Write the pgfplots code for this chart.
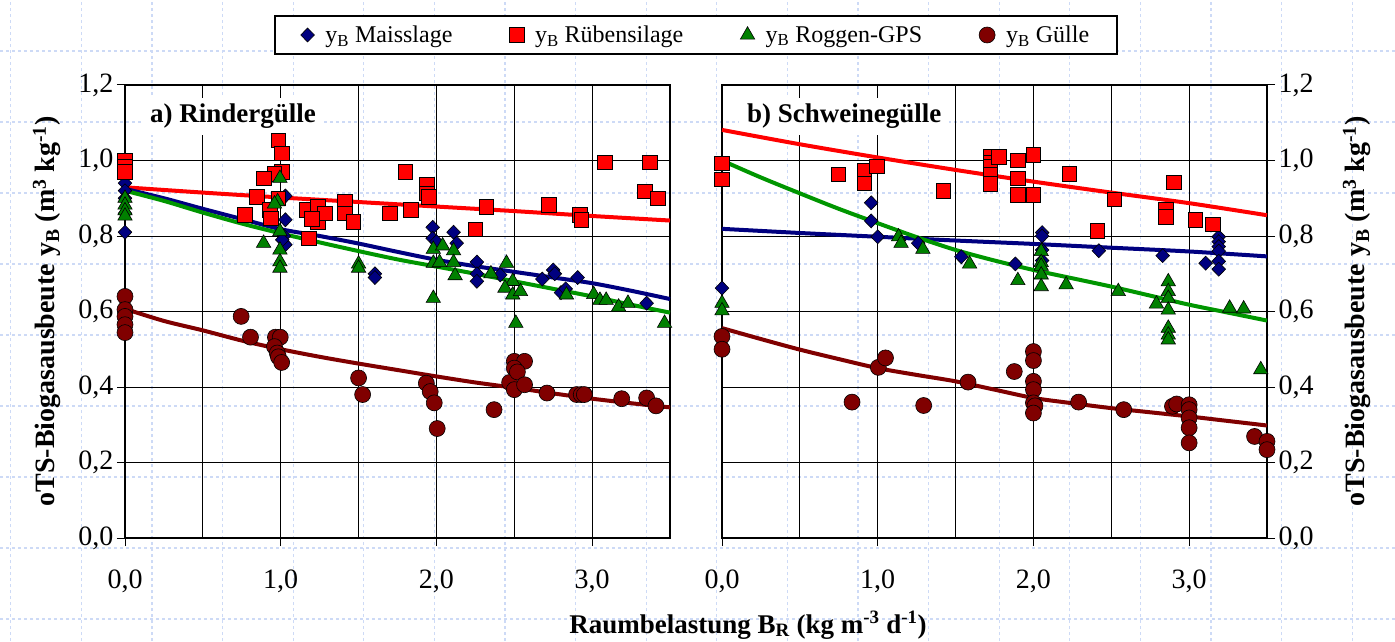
\documentclass[border=0pt]{standalone}
\usepackage{fontspec}
\setmainfont{Liberation Serif}
\usepackage{pgfplots}
\pgfplotsset{compat=1.18}
\definecolor{mnavy}{RGB}{0,0,128}
\definecolor{mred}{RGB}{255,0,0}
\definecolor{mgreen}{RGB}{0,128,0}
\definecolor{lgreen}{RGB}{0,150,0}
\definecolor{mdred}{RGB}{128,0,0}
\definecolor{bgline}{RGB}{205,218,246}
\tikzset{ptitle/.style={anchor=base west, fill=white, inner xsep=8pt, inner ysep=6pt, font=\bfseries\fontsize{27}{30}\selectfont}}
\pgfplotsset{
  panel/.style={
    scale only axis, width=545pt, height=453pt,
    xmin=0, xmax=3.5, ymin=0, ymax=1.2,
    clip=false,
    xtick={0,1,2,3}, xticklabels={{0,0},{1,0},{2,0},{3,0}},
    minor xtick={0.5,1.5},
    extra x ticks={2.5}, extra x tick labels={},
    extra x tick style={grid style={black!75, line width=2pt}, major tick length=0pt},
    ytick={0,0.2,0.4,0.6,0.8,1.0,1.2},
    yticklabels={{0,0},{0,2},{0,4},{0,6},{0,8},{1,0},{1,2}},
    grid=both,
    major grid style={black, line width=0.9pt},
    minor grid style={black, line width=0.9pt},
    axis line style={black, line width=1.3pt},
    tick style={black, line width=1pt},
    major tick length=8pt, minor tick length=0pt,
    tick align=outside,
    tick label style={font=\fontsize{28}{30}\selectfont},
    xticklabel style={yshift=-20pt},
    label style={font=\bfseries\fontsize{28}{30}\selectfont},
  },
  mai/.style={only marks, mark=diamond*, mark size=7pt, mark options={fill=mnavy, draw=black, line width=0.6pt, xscale=1.3}},
  rue/.style={only marks, mark=square*, mark size=7.3pt, mark options={fill=mred, draw=black, line width=0.6pt}},
  rog/.style={only marks, mark=triangle*, mark size=8.3pt, mark options={fill=mgreen, draw=black, line width=0.6pt}},
  gue/.style={only marks, mark=*, mark size=8pt, mark options={fill=mdred, draw=black, line width=0.6pt}},
  fit/.style={forget plot, no marks, smooth, line width=4pt, #1},
}
\begin{document}
\begin{tikzpicture}
\useasboundingbox (0,0) rectangle (1395pt,641pt);
\begin{scope}[line width=1.2pt]
\foreach \i in {0,...,19} { \draw[bgline, dash pattern=on 3pt off 3pt] ({10.8pt+\i*70.6pt},0pt) -- ({10.8pt+\i*70.6pt},641pt); }
\foreach \j in {0,...,8} { \draw[bgline, dash pattern=on 3pt off 3pt] (0pt,{22pt+\j*71pt}) -- (1395pt,{22pt+\j*71pt}); }
\end{scope}

% ---------------- left panel ----------------
\begin{axis}[panel, at={(125pt,103pt)}, anchor=south west,
  tick pos=left,
  ylabel={oTS-Biogasausbeute y\textsubscript{B} (m\textsuperscript{3} kg\textsuperscript{-1})},
  ylabel style={at={(axis description cs:-0.143,0.5)}, anchor=center},
  legend columns=4, legend cell align=left,
  legend image code/.code={\draw[mark repeat=2,mark phase=2,#1] plot coordinates {(0pt,0pt) (8pt,0pt) (16pt,0pt)};},
  legend style={at={(axis description cs:0.2734,1.1104)}, anchor=west, draw=black, line width=1.5pt,
    inner xsep=26pt, inner ysep=8pt, font=\fontsize{24}{26}\selectfont,
    /tikz/every odd column/.append style={column sep=9pt},
    /tikz/every even column/.append style={column sep=55pt}},
]
\node[ptitle] at (axis cs:0.109,1.10) {a) Rindergülle};
\addplot[fit=mred] coordinates {(0,0.929) (0.5,0.915) (1,0.902) (1.5,0.89) (2,0.878) (2.5,0.866) (3,0.853) (3.5,0.841)};
\addplot[fit=mnavy] coordinates {(0,0.925) (0.25,0.90) (0.5,0.872) (0.75,0.845) (1,0.818) (1.25,0.80) (1.5,0.78) (1.75,0.758) (2,0.737) (2.25,0.72) (2.5,0.705) (2.75,0.69) (3,0.675) (3.25,0.655) (3.5,0.633)};
\addplot[fit=lgreen] coordinates {(0,0.92) (0.25,0.893) (0.5,0.862) (0.75,0.833) (1,0.807) (1.25,0.783) (1.5,0.76) (1.75,0.738) (2,0.719) (2.25,0.70) (2.5,0.68) (2.75,0.66) (3,0.64) (3.25,0.618) (3.5,0.597)};
\addplot[fit=mdred] coordinates {(0,0.607) (0.25,0.575) (0.5,0.55) (0.75,0.523) (1,0.50) (1.25,0.48) (1.5,0.462) (1.75,0.445) (2,0.428) (2.25,0.412) (2.5,0.398) (2.75,0.383) (3,0.369) (3.25,0.357) (3.5,0.346)};
\addplot[mai] coordinates {
(0,0.94) (0,0.92) (0,0.90) (0,0.86) (0,0.81)
(1.03,0.906) (1.03,0.843) (1.02,0.80) (1.03,0.777) (1.01,0.79)
(1.605,0.70) (1.605,0.69) (1.976,0.823) (1.976,0.794) (2.0,0.785)
(2.11,0.81) (2.13,0.781) (2.26,0.731) (2.26,0.70) (2.26,0.68)
(2.41,0.697) (2.68,0.686) (2.75,0.71) (2.76,0.70) (2.80,0.65)
(2.83,0.66) (2.907,0.69) (3.35,0.622)};
\addlegendentry{y\textsubscript{B} Maisslage}
\addplot[rue] coordinates {
(0,1.00) (0,0.985) (0,0.97) (0.985,1.054) (1.006,1.019) (1.006,0.970)
(0.96,0.965) (0.893,0.953) (0.845,0.904) (0.985,0.90) (0.77,0.856)
(0.93,0.869) (0.935,0.847) (1.166,0.869) (1.24,0.878) (1.24,0.838)
(1.285,0.86) (1.2,0.845) (1.413,0.891) (1.413,0.86) (1.466,0.837)
(1.18,0.794) (1.70,0.86) (1.80,0.970) (1.835,0.869) (1.94,0.935)
(1.94,0.913) (1.95,0.904) (2.25,0.818) (2.32,0.878) (2.72,0.882)
(2.92,0.856) (2.93,0.843) (3.08,0.995) (3.37,0.995) (3.34,0.918) (3.42,0.90)};
\addlegendentry{y\textsubscript{B} Rübensilage}
\addplot[rog] coordinates {
(0,0.90) (0,0.882) (0,0.867) (0,0.853) (0.995,0.953) (0.98,0.891)
(0.96,0.885) (0.89,0.781) (0.995,0.812) (0.995,0.763) (0.995,0.732)
(0.995,0.715) (1.50,0.726) (1.50,0.715) (1.98,0.765) (2.04,0.774)
(2.11,0.761) (1.98,0.728) (2.02,0.73) (2.11,0.73) (2.12,0.695)
(1.98,0.635) (2.35,0.70) (2.45,0.728) (2.49,0.68) (2.44,0.662)
(2.49,0.644) (2.54,0.653) (2.51,0.569) (2.835,0.644) (3.01,0.645)
(3.05,0.63) (3.09,0.63) (3.17,0.612) (3.23,0.622) (3.465,0.569)};
\addlegendentry{y\textsubscript{B} Roggen-GPS}
\addplot[gue] coordinates {
(0,0.64) (0,0.605) (0,0.587) (0,0.565) (0,0.544) (0.746,0.587)
(0.806,0.532) (0.966,0.532) (0.997,0.532) (0.96,0.507) (0.978,0.49)
(0.985,0.48) (1.006,0.465) (1.50,0.424) (1.526,0.38) (1.935,0.41)
(1.96,0.388) (1.986,0.358) (2.005,0.29) (2.37,0.34) (2.47,0.412)
(2.50,0.393) (2.50,0.468) (2.566,0.468) (2.50,0.45) (2.52,0.44)
(2.566,0.406) (2.71,0.384) (2.90,0.38) (2.93,0.38) (2.95,0.38)
(3.19,0.369) (3.35,0.371) (3.41,0.35)};
\addlegendentry{y\textsubscript{B} Gülle}
\end{axis}

% ---------------- right panel ----------------
\begin{axis}[panel, at={(722pt,103pt)}, anchor=south west,
  xtick pos=left, ytick pos=right, yticklabel pos=right,
  ylabel={oTS-Biogasausbeute y\textsubscript{B} (m\textsuperscript{3} kg\textsuperscript{-1})},
  ylabel style={at={(axis description cs:1.165,0.5)}, anchor=center},
]
\node[ptitle] at (axis cs:0.109,1.10) {b) Schweinegülle};
\addplot[fit=mred] coordinates {(0,1.081) (0.5,1.043) (1,1.008) (1.5,0.975) (2,0.944) (2.5,0.915) (3,0.887) (3.5,0.855)};
\addplot[fit=mnavy] coordinates {(0,0.819) (0.5,0.808) (1,0.798) (1.5,0.788) (2,0.779) (2.5,0.769) (3,0.759) (3.5,0.746)};
\addplot[fit=lgreen] coordinates {(0,1.0) (0.25,0.955) (0.5,0.913) (0.75,0.872) (1,0.834) (1.25,0.797) (1.5,0.763) (1.75,0.735) (2,0.71) (2.25,0.688) (2.5,0.666) (2.75,0.642) (3,0.618) (3.25,0.597) (3.5,0.576)};
\addplot[fit=mdred] coordinates {(0,0.556) (0.25,0.527) (0.5,0.499) (0.75,0.474) (1,0.45) (1.25,0.432) (1.5,0.415) (1.75,0.393) (2,0.371) (2.25,0.357) (2.5,0.344) (2.75,0.333) (3,0.322) (3.25,0.31) (3.5,0.298)};
\addplot[mai] coordinates {
(0,0.662) (0.958,0.888) (0.958,0.84) (1.0,0.798) (1.26,0.781)
(1.537,0.745) (1.884,0.726) (2.056,0.809) (2.056,0.80) (2.056,0.763)
(2.056,0.735) (2.42,0.761) (2.83,0.748) (3.106,0.728) (3.19,0.798)
(3.19,0.785) (3.19,0.772) (3.19,0.76) (3.19,0.733) (3.19,0.712)};
\addplot[rue] coordinates {
(0,0.993) (0,0.95) (0.748,0.963) (0.915,0.972) (0.915,0.94) (0.995,0.985)
(1.42,0.919) (1.724,1.01) (1.724,0.995) (1.724,0.985) (1.724,0.962)
(1.724,0.938) (1.777,1.01) (1.90,1.001) (1.90,0.953) (1.90,0.909)
(2.00,1.015) (2.00,0.909) (2.23,0.964) (2.52,0.897) (2.41,0.813)
(2.90,0.942) (2.85,0.871) (2.85,0.851) (3.04,0.843) (3.15,0.831)};
\addplot[rog] coordinates {
(0,0.622) (0,0.602) (1.134,0.798) (1.15,0.781) (1.29,0.765) (1.59,0.726)
(1.90,0.682) (2.05,0.759) (2.05,0.73) (2.05,0.72) (2.05,0.697)
(2.05,0.666) (2.21,0.671) (2.545,0.653) (2.79,0.62) (2.866,0.679)
(2.866,0.653) (2.866,0.635) (2.866,0.604) (2.866,0.556) (2.866,0.538)
(2.866,0.525) (3.26,0.609) (3.35,0.607) (3.46,0.446)};
\addplot[gue] coordinates {
(0,0.534) (0,0.50) (0.835,0.36) (1.004,0.452) (1.05,0.477) (1.295,0.351)
(1.58,0.413) (1.877,0.441) (2.0,0.494) (2.0,0.47) (2.0,0.415)
(2.0,0.393) (2.0,0.358) (2.01,0.35) (2.0,0.331) (2.29,0.36)
(2.58,0.34) (2.893,0.349) (2.92,0.355) (3.0,0.353) (3.0,0.34)
(3.0,0.318) (3.0,0.292) (3.0,0.252) (3.42,0.269) (3.5,0.256) (3.5,0.234)};
\end{axis}

\node[anchor=base, font=\bfseries\fontsize{27}{30}\selectfont] at (748pt,8pt) {Raumbelastung B\textsubscript{R} (kg m\textsuperscript{-3} d\textsuperscript{-1})};
\end{tikzpicture}
\end{document}
